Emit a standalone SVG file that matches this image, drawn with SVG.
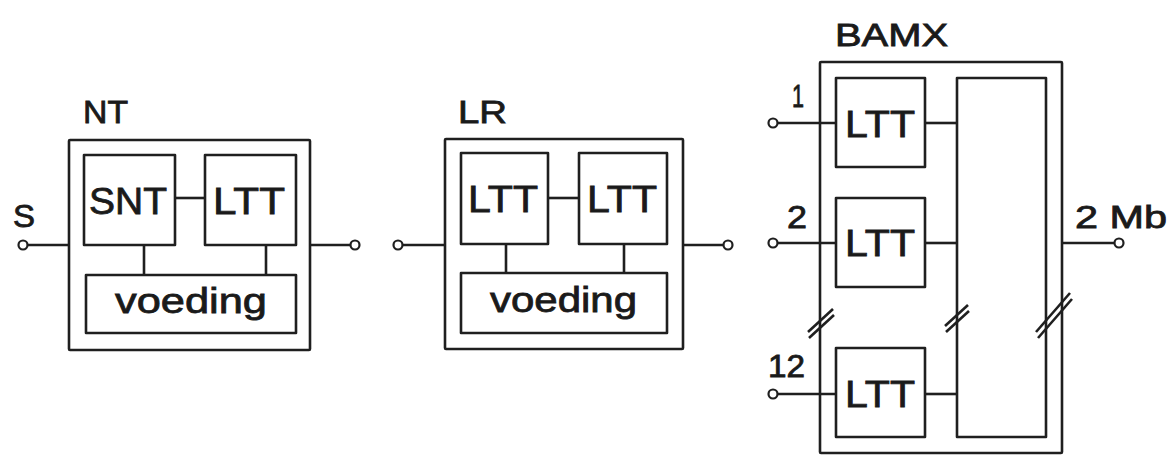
<svg xmlns="http://www.w3.org/2000/svg" width="1172" height="456" viewBox="0 0 1172 456">
<style>
.b{fill:none;stroke:#1f1f1f;stroke-width:2.6;stroke-linejoin:round}
.l{fill:none;stroke:#1f1f1f;stroke-width:2.6}
.c{fill:#fff;stroke:#1f1f1f;stroke-width:2.2}
text{font-family:"Liberation Sans",Arial,sans-serif;fill:#1a1a1a;stroke:#1a1a1a;stroke-width:0.8}
.s{font-size:31px}
.m{font-size:37px}
.v{font-size:35px}
</style>
<rect width="1172" height="456" fill="#fff"/>
<g id="connectors">
<line class="l" x1="27" y1="245" x2="69" y2="245"/>
<line class="l" x1="310" y1="245" x2="351" y2="245"/>
<line class="l" x1="402" y1="245" x2="445" y2="245"/>
<line class="l" x1="683" y1="245" x2="724" y2="245"/>
<line class="l" x1="777" y1="123" x2="836" y2="123"/>
<line class="l" x1="777" y1="243" x2="836" y2="243"/>
<line class="l" x1="777" y1="394" x2="836" y2="394"/>
<line class="l" x1="1062" y1="243" x2="1115" y2="243"/>
<line class="l" x1="175" y1="198" x2="205" y2="198"/>
<line class="l" x1="144" y1="245" x2="144" y2="275"/>
<line class="l" x1="266" y1="245" x2="266" y2="275"/>
<line class="l" x1="548" y1="198" x2="579" y2="198"/>
<line class="l" x1="506" y1="244" x2="506" y2="273"/>
<line class="l" x1="624" y1="244" x2="624" y2="273"/>
<line class="l" x1="925" y1="123" x2="957" y2="123"/>
<line class="l" x1="925" y1="243" x2="957" y2="243"/>
<line class="l" x1="925" y1="394" x2="957" y2="394"/>
<line class="l" x1="808" y1="332" x2="833" y2="309"/>
<line class="l" x1="809" y1="338" x2="834" y2="315"/>
<line class="l" x1="945" y1="326" x2="968" y2="305"/>
<line class="l" x1="946" y1="332" x2="969" y2="311"/>
<line class="l" x1="1036" y1="332" x2="1070" y2="293"/>
<line class="l" x1="1038" y1="338" x2="1072" y2="299"/>
<circle class="c" cx="23" cy="245" r="4.5"/>
<circle class="c" cx="355" cy="245" r="4.5"/>
<circle class="c" cx="398" cy="245" r="4.5"/>
<circle class="c" cx="728" cy="245" r="4.5"/>
<circle class="c" cx="773" cy="123" r="4.5"/>
<circle class="c" cx="773" cy="243" r="4.5"/>
<circle class="c" cx="773" cy="394" r="4.5"/>
<circle class="c" cx="1119" cy="243" r="4.5"/>
</g>
<g id="labels">
<text class="s" x="13" y="227" textLength="22" lengthAdjust="spacingAndGlyphs">S</text>
<text class="s" x="792" y="107" textLength="12" lengthAdjust="spacingAndGlyphs">1</text>
<text class="s" x="787" y="228" textLength="20" lengthAdjust="spacingAndGlyphs">2</text>
<text class="s" x="768" y="377" textLength="37" lengthAdjust="spacingAndGlyphs">12</text>
<text class="s" x="1075" y="228" textLength="92" lengthAdjust="spacingAndGlyphs">2 Mb</text>
</g>
<g id="NT">
<rect class="b" x="69" y="140" width="241" height="210" rx="1"/>
<text class="s" x="83" y="123" textLength="45" lengthAdjust="spacingAndGlyphs">NT</text>
</g>
<g id="NT-SNT">
<rect class="b" x="84" y="155" width="91" height="90"/>
<text class="m" x="89" y="214" textLength="78" lengthAdjust="spacingAndGlyphs">SNT</text>
</g>
<g id="NT-LTT">
<rect class="b" x="205" y="155" width="91" height="90"/>
<text class="m" x="213" y="214" textLength="72" lengthAdjust="spacingAndGlyphs">LTT</text>
</g>
<g id="NT-voeding">
<rect class="b" x="86" y="275" width="210" height="58"/>
<text class="v" x="115" y="313" textLength="152" lengthAdjust="spacingAndGlyphs">voeding</text>
</g>
<g id="LR">
<rect class="b" x="445" y="139" width="238" height="210" rx="1"/>
<text class="s" x="458" y="123" textLength="49" lengthAdjust="spacingAndGlyphs">LR</text>
</g>
<g id="LR-LTT1">
<rect class="b" x="461" y="153" width="87" height="91"/>
<text class="m" x="468" y="212" textLength="70" lengthAdjust="spacingAndGlyphs">LTT</text>
</g>
<g id="LR-LTT2">
<rect class="b" x="579" y="153" width="88" height="91"/>
<text class="m" x="587" y="212" textLength="70" lengthAdjust="spacingAndGlyphs">LTT</text>
</g>
<g id="LR-voeding">
<rect class="b" x="461" y="273" width="206" height="60"/>
<text class="v" x="490" y="312" textLength="147" lengthAdjust="spacingAndGlyphs">voeding</text>
</g>
<g id="BAMX">
<rect class="b" x="820" y="62" width="242" height="391" rx="1"/>
<text class="s" x="835" y="46" textLength="113" lengthAdjust="spacingAndGlyphs">BAMX</text>
</g>
<g id="BAMX-mux">
<rect class="b" x="957" y="78" width="89" height="359"/>
</g>
<g id="BAMX-LTT1">
<rect class="b" x="836" y="78" width="89" height="89"/>
<text class="m" x="845" y="137" textLength="70" lengthAdjust="spacingAndGlyphs">LTT</text>
</g>
<g id="BAMX-LTT2">
<rect class="b" x="836" y="198" width="89" height="89"/>
<text class="m" x="845" y="256" textLength="70" lengthAdjust="spacingAndGlyphs">LTT</text>
</g>
<g id="BAMX-LTT12">
<rect class="b" x="836" y="348" width="89" height="89"/>
<text class="m" x="845" y="407" textLength="70" lengthAdjust="spacingAndGlyphs">LTT</text>
</g>
</svg>
